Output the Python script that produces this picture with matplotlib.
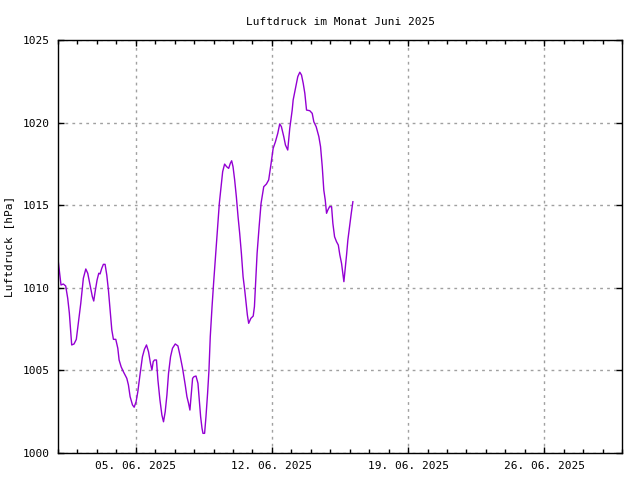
import numpy as np
import pandas as pd
import matplotlib
matplotlib.use("Agg")
import matplotlib.pyplot as plt
import matplotlib.dates as mdates

# Stunden seit 01.06.2025 00:00 und Luftdruck in hPa
hours = [0, 3.7, 6.6, 9.5, 12.0, 14.0, 16.1, 16.9, 19.8, 22.6, 25.1, 28.1, 31.3, 34.3,
         36.7, 39.6, 42.4, 44.1, 45.8, 48.2, 50.3, 51.9, 54.0, 56.0, 58.1, 60.2, 62.2,
         64.3, 66.4, 68.4, 71.3, 73.8, 75.4, 77.9, 80.7, 84.9, 86.9, 89.0, 91.9, 94.0,
         96.4, 98.5, 101.4, 104.2, 106.7, 109.2, 111.7, 114.1, 115.9, 117.5, 119.1,
         121.5, 123.3, 125.8, 128.2, 130.2, 132.3, 134.4, 136.4, 138.9, 141.3, 144.7,
         148.0, 150.9, 153.7, 157.0, 159.1, 161.1, 162.8, 164.5, 166.1, 167.8, 170.3,
         172.7, 174.3, 176.0, 177.7, 178.9, 180.9, 182.6, 184.6, 186.3, 187.9, 190.1,
         192.0, 194.1, 196.6, 199.1, 201.2, 203.2, 205.6, 208.1, 210.6, 212.7, 214.3,
         216.0, 218.0, 220.1, 222.2, 224.2, 226.3, 228.4, 230.4, 232.5, 233.7, 235.3,
         238.0, 240.9, 242.4, 243.6, 245.7, 248.2, 250.6, 253.9, 257.2, 260.0, 263.0,
         265.5, 268.3, 271.2, 273.6, 275.7, 278.6, 280.7, 283.5, 286.0, 289.0, 290.2,
         293.1, 295.9, 298.4, 300.5, 302.6, 304.6, 306.7, 310.7, 313.7, 315.7, 318.6,
         321.9, 324.0, 326.1, 328.0, 329.8, 331.4, 333.0, 335.1, 337.6, 339.2, 341.3,
         343.7, 345.9, 347.8, 349.9, 351.5, 352.8, 354.5, 356.1, 357.7, 359.8, 361.9,
         363.9]
pressure = [1011.74, 1010.17, 1010.23, 1010.11, 1009.36, 1008.47, 1007.04, 1006.54,
            1006.60, 1006.88, 1007.85, 1009.06, 1010.58, 1011.14, 1010.88, 1010.17,
            1009.46, 1009.20, 1009.76, 1010.47, 1010.88, 1010.84, 1011.18, 1011.42,
            1011.42, 1010.77, 1009.87, 1008.66, 1007.45, 1006.88, 1006.88, 1006.34,
            1005.63, 1005.22, 1004.92, 1004.52, 1004.12, 1003.41, 1002.91, 1002.77,
            1003.11, 1003.71, 1004.82, 1005.83, 1006.28, 1006.54, 1006.13, 1005.43,
            1005.02, 1005.53, 1005.63, 1005.63, 1004.42, 1003.21, 1002.30, 1001.89,
            1002.50, 1003.51, 1004.82, 1005.83, 1006.34, 1006.60, 1006.48, 1005.83,
            1005.13, 1004.12, 1003.41, 1003.01, 1002.60, 1003.61, 1004.52, 1004.62,
            1004.66, 1004.22, 1003.21, 1002.20, 1001.50, 1001.19, 1001.19, 1002.20,
            1003.61, 1005.02, 1007.04, 1008.86, 1010.27, 1011.68, 1013.30, 1015.12,
            1016.12, 1017.03, 1017.49, 1017.33, 1017.23, 1017.54, 1017.69, 1017.33,
            1016.53, 1015.51, 1014.30, 1013.30, 1012.09, 1010.67, 1009.87, 1008.90,
            1008.35, 1007.85, 1008.15, 1008.29, 1008.86, 1010.07, 1012.09, 1013.70,
            1015.12, 1016.12, 1016.28, 1016.53, 1017.54, 1018.44, 1018.84, 1019.35,
            1019.92, 1019.75, 1019.15, 1018.64, 1018.34, 1019.65, 1020.76, 1021.37,
            1022.08, 1022.78, 1023.05, 1022.88, 1022.38, 1021.77, 1020.76, 1020.72,
            1020.56, 1020.05, 1019.75, 1019.15, 1018.54, 1017.33, 1015.92, 1015.31,
            1014.51, 1014.71, 1014.91, 1014.91, 1013.90, 1013.09, 1012.79, 1012.59,
            1011.99, 1011.48, 1010.88, 1010.37, 1011.18, 1011.99, 1012.89, 1013.70,
            1014.51, 1015.21]

start = pd.Timestamp("2025-06-01")
times = start + pd.to_timedelta(hours, unit="h")

plt.rcParams['font.family'] = ['DejaVu Sans Mono']
plt.rcParams['font.size'] = 8

fig = plt.figure(figsize=(6.4, 4.8), dpi=100)
ax = fig.add_axes([58/640, 27/480, 564/640, 413/480])

ax.plot(times, pressure, color='#9400d3', lw=1)

ax.set_xlim(start, pd.Timestamp("2025-06-30"))
ax.set_ylim(1000, 1025)
ax.set_yticks(np.arange(1000, 1026, 5))

ax.xaxis.set_major_locator(mdates.DayLocator(bymonthday=[5, 12, 19, 26]))
ax.xaxis.set_minor_locator(mdates.DayLocator())
ax.xaxis.set_major_formatter(mdates.DateFormatter("%d. %m. %Y"))

ax.tick_params(which='both', direction='in', top=True, right=True, width=1, pad=6)
ax.tick_params(which='major', length=4)
ax.tick_params(which='minor', length=3)
for s in ax.spines.values():
    s.set_linewidth(1)

ax.grid(True, which='major', color='#a0a0a0', linestyle=(0, (2, 3)), lw=1)

ax.set_title("Luftdruck im Monat Juni 2025", fontsize=8, pad=11)
ax.set_ylabel("Luftdruck [hPa]", labelpad=6)

fig.savefig("out.png", dpi=100)
